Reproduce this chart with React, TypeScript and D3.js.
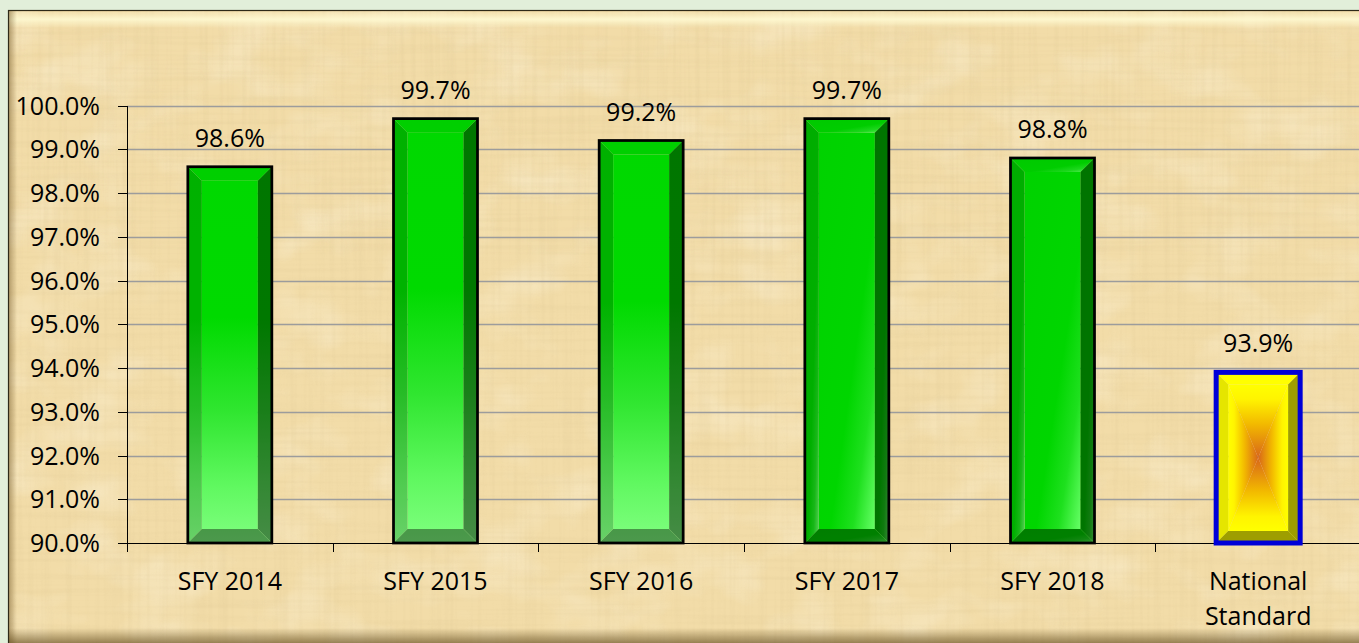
import React from "react";
import * as d3 from "d3";

const categories = ["SFY 2014", "SFY 2015", "SFY 2016", "SFY 2017", "SFY 2018", "National Standard"];
const categoryLines = [["SFY 2014"], ["SFY 2015"], ["SFY 2016"], ["SFY 2017"], ["SFY 2018"], ["National", "Standard"]];
const values = [98.6, 99.7, 99.2, 99.7, 98.8, 93.9];
const valueLabels = ["98.6%", "99.7%", "99.2%", "99.7%", "98.8%", "93.9%"];
const yTicks = [90, 91, 92, 93, 94, 95, 96, 97, 98, 99, 100];
const yTickLabels = ["90.0%", "91.0%", "92.0%", "93.0%", "94.0%", "95.0%", "96.0%", "97.0%", "98.0%", "99.0%", "100.0%"];
const barKinds = ["vertical", "vertical", "vertical", "diagonal", "diagonal", "standard"];

const W = 1359;
const H = 643;
const FONT = "'Open Sans', 'Noto Sans', sans-serif";
const FS = 25;

const yellowStops = [
  ["0", "#ffff00"],
  ["0.2", "#fff400"],
  ["0.55", "#f2b800"],
  ["1", "#d8661a"],
];

export default function App() {
  const x = d3.scaleBand<string>().domain(categories).range([127, 1361]).padding(0);
  const y = d3.scaleLinear().domain([90, 100]).range([543, 105.5]);
  const bw = 84;
  const bottom = y(90);
  const boundaries = d3.range(categories.length + 1).map((i) => 127 + i * x.step());

  const bars = values.map((v, i) => {
    const cx = (x(categories[i]) as number) + x.bandwidth() / 2;
    const x0 = cx - bw / 2;
    const x1 = cx + bw / 2;
    const top = y(v);
    const kind = barKinds[i];
    const b = kind === "standard" ? 12 : 14;
    const ix0 = x0 + b, ix1 = x1 - b, it = top + b, ib = bottom - b;
    const icx = (ix0 + ix1) / 2, icy = (it + ib) / 2;
    const pts = (a: number[][]) => a.map((p) => p.join(",")).join(" ");
    const topP = pts([[x0, top], [x1, top], [ix1, it], [ix0, it]]);
    const leftP = pts([[x0, top], [ix0, it], [ix0, ib], [x0, bottom]]);
    const rightP = pts([[x1, top], [x1, bottom], [ix1, ib], [ix1, it]]);
    const botP = pts([[x0, bottom], [ix0, ib], [ix1, ib], [x1, bottom]]);
    const gid = `g${i}`;
    let defs: React.ReactNode = null;
    let face: React.ReactNode = null;
    let bevelFill = `url(#${gid})`;
    if (kind === "vertical") {
      defs = (
        <linearGradient id={gid} gradientUnits="userSpaceOnUse" x1={0} y1={top} x2={0} y2={bottom}>
          <stop offset="0" stopColor="#00d800" />
          <stop offset="0.4" stopColor="#00da00" />
          <stop offset="0.65" stopColor="#30e630" />
          <stop offset="0.85" stopColor="#60f860" />
          <stop offset="1" stopColor="#80ff80" />
        </linearGradient>
      );
      face = <rect x={ix0} y={it} width={ix1 - ix0} height={ib - it} fill={`url(#${gid})`} />;
    } else if (kind === "diagonal") {
      defs = (
        <linearGradient id={`${gid}d`} x1="0" y1="0" x2="1" y2="1">
          <stop offset="0" stopColor="#00d200" />
          <stop offset="0.6" stopColor="#00d600" />
          <stop offset="0.8" stopColor="#1ee01e" />
          <stop offset="1" stopColor="#66ff66" />
        </linearGradient>
      );
      face = <rect x={ix0} y={it} width={ix1 - ix0} height={ib - it} fill={`url(#${gid}d)`} />;
      bevelFill = `url(#${gid}d)`;
    } else {
      const mk = (id: string, a: number[], c: number[]) => (
        <linearGradient id={id} gradientUnits="userSpaceOnUse" x1={a[0]} y1={a[1]} x2={c[0]} y2={c[1]}>
          {yellowStops.map(([o, col]) => (
            <stop key={o} offset={o} stopColor={col} />
          ))}
        </linearGradient>
      );
      defs = (
        <>
          {mk(`${gid}t`, [0, it], [0, icy])}
          {mk(`${gid}b`, [0, ib], [0, icy])}
          {mk(`${gid}l`, [ix0, 0], [icx, 0])}
          {mk(`${gid}r`, [ix1, 0], [icx, 0])}
        </>
      );
      const c = [icx, icy];
      face = (
        <g>
          <polygon points={pts([[ix0, it], [ix1, it], c])} fill={`url(#${gid}t)`} />
          <polygon points={pts([[ix0, ib], [ix1, ib], c])} fill={`url(#${gid}b)`} />
          <polygon points={pts([[ix0, it], c, [ix0, ib]])} fill={`url(#${gid}l)`} />
          <polygon points={pts([[ix1, it], c, [ix1, ib]])} fill={`url(#${gid}r)`} />
        </g>
      );
      bevelFill = "#ffff00";
    }
    const std = kind === "standard";
    return (
      <g key={i}>
        <defs>{defs}</defs>
        {face}
        <polygon points={topP} fill={bevelFill} />
        <polygon points={topP} fill="#000" opacity={std ? 0 : 0.04} />
        <polygon points={leftP} fill={bevelFill} />
        <polygon points={leftP} fill="#000" opacity={std ? 0.1 : 0.18} />
        <polygon points={rightP} fill={bevelFill} />
        <polygon points={rightP} fill="#000" opacity={std ? 0.38 : 0.45} />
        <polygon points={botP} fill={bevelFill} />
        <polygon points={botP} fill="#000" opacity={std ? 0.38 : 0.4} />
        <rect x={x0} y={top} width={bw} height={bottom - top} fill="none"
          stroke={std ? "#0000d8" : "#000"} strokeWidth={std ? 5 : 2.75} />
        <text x={cx} y={top - 20} textAnchor="middle" fontFamily={FONT} fontSize={FS} fill="#000">
          {valueLabels[i]}
        </text>
      </g>
    );
  });

  return (
    <svg width={W} height={H} style={{ position: "absolute", left: 0, top: 0, display: "block" }}>
      <defs>
        <clipPath id="frameClip">
          <rect x={8} y={10.5} width={W} height={H} />
        </clipPath>
        <filter id="fibH" x="0" y="0" width="100%" height="100%">
          <feTurbulence type="fractalNoise" baseFrequency="0.006 0.22" numOctaves="2" seed="7" />
          <feColorMatrix type="matrix" values="0 0 0 0 0.7  0 0 0 0 0.55  0 0 0 0 0.28  2.2 0 0 0 -1.0" />
        </filter>
        <filter id="fibV" x="0" y="0" width="100%" height="100%">
          <feTurbulence type="fractalNoise" baseFrequency="0.22 0.006" numOctaves="2" seed="3" />
          <feColorMatrix type="matrix" values="0 0 0 0 0.7  0 0 0 0 0.55  0 0 0 0 0.28  2.2 0 0 0 -1.0" />
        </filter>
        <filter id="blot" x="0" y="0" width="100%" height="100%">
          <feTurbulence type="fractalNoise" baseFrequency="0.015 0.02" numOctaves="3" seed="11" />
          <feColorMatrix type="matrix" values="0 0 0 0 1  0 0 0 0 0.97  0 0 0 0 0.85  1.8 0 0 0 -0.8" />
        </filter>
        <linearGradient id="topHi" x1="0" y1="0" x2="0" y2="1">
          <stop offset="0" stopColor="#fff9d0" stopOpacity="0.2" />
          <stop offset="0.45" stopColor="#fffad2" stopOpacity="0.9" />
          <stop offset="1" stopColor="#fffad2" stopOpacity="0" />
        </linearGradient>
        <linearGradient id="leftSh" x1="0" y1="0" x2="1" y2="0">
          <stop offset="0" stopColor="#6a5020" stopOpacity="0.5" />
          <stop offset="1" stopColor="#6a5020" stopOpacity="0" />
        </linearGradient>
        <linearGradient id="botSh" x1="0" y1="0" x2="0" y2="1">
          <stop offset="0" stopColor="#5a4418" stopOpacity="0" />
          <stop offset="1" stopColor="#5a4418" stopOpacity="0.6" />
        </linearGradient>
      </defs>

      <rect x={0} y={0} width={W} height={H} fill="#e2efda" />

      <g clipPath="url(#frameClip)">
        <rect x={8} y={10.5} width={W} height={H} fill="#f2dca8" />
        <rect x={8} y={10.5} width={W} height={H} fill="#fff" filter="url(#blot)" opacity={0.4} />
        <rect x={8} y={10.5} width={W} height={H} fill="#fff" filter="url(#fibH)" opacity={0.18} />
        <rect x={8} y={10.5} width={W} height={H} fill="#fff" filter="url(#fibV)" opacity={0.18} />
        <rect x={8} y={12} width={W} height={16} fill="url(#topHi)" />
        <rect x={8} y={10.5} width={9} height={H} fill="url(#leftSh)" />
        <rect x={8} y={628} width={W} height={15} fill="url(#botSh)" />
      </g>
      <rect x={8.5} y={10.5} width={W + 10} height={H + 10} fill="none" stroke="#2e2a18" strokeWidth={1.2} />

      {yTicks.filter((t) => t !== 90).map((t) => (
        <line key={t} x1={127} x2={W} y1={Math.round(y(t)) + 0.5} y2={Math.round(y(t)) + 0.5} stroke="#9c9c9c" strokeWidth={1.3} />
      ))}

      <line x1={127.5} x2={127.5} y1={Math.round(y(100))} y2={552} stroke="#000" strokeWidth={1} />
      {yTicks.map((t, i) => (
        <g key={t}>
          <line x1={118} x2={127.5} y1={Math.round(y(t)) + 0.5} y2={Math.round(y(t)) + 0.5} stroke="#000" strokeWidth={1} />
          <text x={100} y={y(t) + 9} textAnchor="end" fontFamily={FONT} fontSize={FS} fill="#000">
            {yTickLabels[i]}
          </text>
        </g>
      ))}

      <line x1={127} x2={W} y1={Math.round(bottom) + 0.5} y2={Math.round(bottom) + 0.5} stroke="#000" strokeWidth={1} />
      {boundaries.map((bx, i) => (
        <line key={i} x1={Math.round(bx) + 0.5} x2={Math.round(bx) + 0.5} y1={bottom} y2={552} stroke="#000" strokeWidth={1} />
      ))}

      {bars}

      {categoryLines.map((lines, i) => {
        const cx = (x(categories[i]) as number) + x.bandwidth() / 2;
        return (
          <text key={i} textAnchor="middle" fontFamily={FONT} fontSize={FS} fill="#000">
            {lines.map((l, j) => (
              <tspan key={j} x={cx} y={590 + j * 35}>{l}</tspan>
            ))}
          </text>
        );
      })}
    </svg>
  );
}
